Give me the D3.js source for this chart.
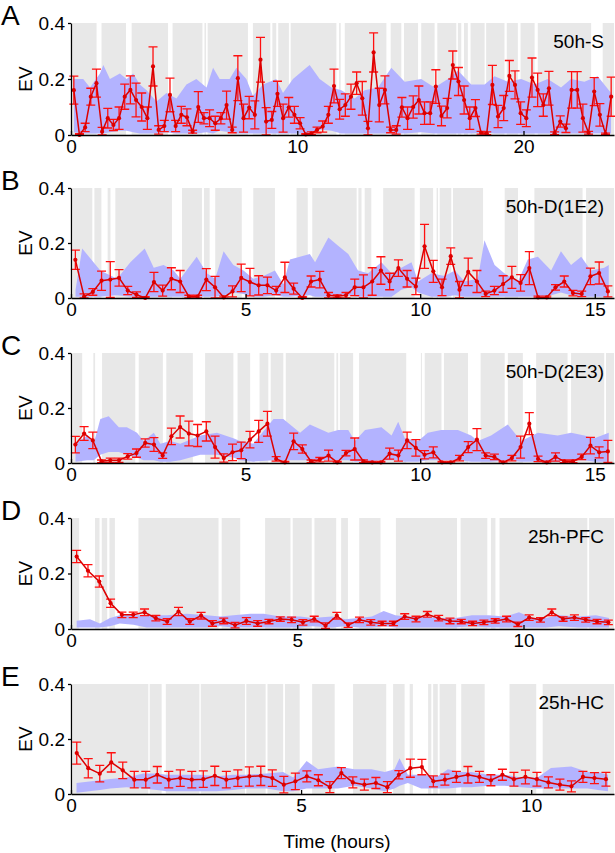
<!DOCTYPE html>
<html><head><meta charset="utf-8">
<script src="https://cdn.jsdelivr.net/npm/d3@7"></script>
<style>body{margin:0;background:#fff}svg{display:block}</style>
</head><body><svg id="c" width="615" height="853"></svg>
<script>
// ---------------- DATA ----------------
const panelLetters = ["A","B","C","D","E"];
const panelTitles = ["50h-S","50h-D(1E2)","50h-D(2E3)","25h-PFC","25h-HC"];
const xMax = [24, 15.55, 15.55, 12, 11.8];
const xTicks = [[0,10,20],[0,5,10,15],[0,5,10,15],[0,5,10],[0,5,10]];
const yTicks = [0, 0.2, 0.4];
const binStart = 0.125, binWidth = 0.25; // time bins (hours)

// Panel A (50h-S)
const evA = [0.16,0.0,0.027,0.137,0.185,0.012,0.06,0.036,0.06,0.137,0.161,0.125,0.10,0.06,0.245,0.018,0.032,0.143,0.032,0.072,0.063,0.012,0.10,0.06,0.06,0.042,0.06,0.107,0.018,0.203,0.06,0.098,0.072,0.269,0.048,0.054,0.147,0.06,0.099,0.072,0.042,0.002,
 0.006,0.018,0.03,0.072,0.175,0.092,0.107,0.137,0.185,0.131,0.024,0.295,0.107,0.161,0.018,0.018,0.099,0.06,0.10,0.125,0.078,0.078,0.173,0.068,0.096,0.25,0.191,0.125,0.06,0.096,0.008,0.006,0.179,0.066,0.096,0.211,0.179,0.078,0.06,0.205,0.161,0.107,0.167,0.006,0.048,0.024,0.161,0.161,0.06,0.008,0.155,0.072,0.004,0.137];
const errA = [0.05,0.005,0.015,0.03,0.05,0.015,0.035,0.02,0.04,0.045,0.05,0.06,0.05,0.04,0.07,0.015,0.02,0.06,0.02,0.03,0.03,0.005,0.055,0.02,0.03,0.025,0.02,0.05,0.01,0.08,0.05,0.04,0.05,0.08,0.05,0.03,0.045,0.05,0.035,0.03,0.02,0.003,
 0.005,0.01,0.02,0.03,0.06,0.035,0.04,0.045,0.04,0.06,0.025,0.07,0.06,0.05,0.01,0.015,0.035,0.04,0.04,0.05,0.04,0.04,0.06,0.035,0.035,0.05,0.05,0.05,0.04,0.03,0.005,0.005,0.07,0.04,0.045,0.055,0.05,0.04,0.03,0.07,0.06,0.04,0.06,0.005,0.02,0.015,0.065,0.065,0.05,0.005,0.05,0.04,0.003,0.07];
const bandTA = [0.13,0.54,0.84,1.28,1.43,1.72,2.16,2.46,2.75,3.04,3.34,3.78,4.22,4.66,5.1,5.54,5.99,6.28,6.57,7.01,7.31,7.75,8.04,8.49,9.07,9.37,9.81,10.4,10.55,10.99,11.51,11.95,12.54,12.98,13.57,14.16,14.75,15.48,16.07,16.66,17.1,17.69,18.28,18.72,19.31,19.9,20.49,21.07,21.66,22.1,22.69,23.28,23.87];
const bandHiA = [0.2,0.2,0.17,0.22,0.25,0.2,0.22,0.2,0.22,0.18,0.16,0.12,0.15,0.13,0.18,0.2,0.17,0.24,0.2,0.2,0.24,0.2,0.14,0.18,0.2,0.15,0.2,0.24,0.25,0.2,0.17,0.16,0.13,0.16,0.17,0.24,0.19,0.2,0.17,0.2,0.23,0.18,0.18,0.21,0.19,0.2,0.18,0.2,0.17,0.2,0.19,0.21,0.15];
const bandLoA = [0.01,0.005,0.005,0.005,0.005,0.01,0.015,0.015,0.01,0.005,0.005,0.005,0.01,0.005,0.005,0.005,0.01,0.005,0.015,0.01,0.005,0.005,0.005,0.005,0.005,0.005,0.005,0.005,0.01,0.02,0.015,0.005,0.005,0.005,0.005,0.005,0.005,0.01,0.005,0.005,0.005,0.005,0.01,0.005,0.005,0.005,0.005,0.005,0.005,0.005,0.005,0.005,0.005];
const grayA = [[0.07,1.13],[1.35,2.43],[2.68,4.29],[4.49,5.81],[5.90,5.97],[6.04,7.82],[8.04,8.81],[8.90,9.07],[9.16,9.63],[9.71,11.73],[11.85,11.92],[12.10,13.94],[14.13,14.60],[14.72,15.34],[15.48,16.07],[16.19,17.03],[17.10,17.25],[17.37,17.54],[17.66,18.28],[18.35,19.16],[19.26,19.75],[19.87,20.49],[20.63,22.99],[23.50,24.02]];

// Panel B (50h-D(1E2))
const evB = [0.139,0.005,0.022,0.063,0.067,0.073,0.027,0.012,0.0,0.058,0.027,0.07,0.06,0.005,0.005,0.067,0.039,0.002,0.024,0.073,0.058,0.046,0.046,0.027,0.075,0.034,0.0,
 0.06,0.067,0.01,0.006,0.01,0.039,0.039,0.06,0.1,0.06,0.109,0.07,0.042,0.188,0.097,0.039,0.152,0.03,0.095,0.06,0.015,0.027,0.051,0.075,0.055,0.109,0.002,0.002,0.039,0.06,0.018,0.015,0.079,0.091,0.024];
const errB = [0.035,0.01,0.012,0.035,0.065,0.03,0.015,0.01,0.005,0.035,0.02,0.04,0.04,0.005,0.005,0.04,0.04,0.005,0.02,0.05,0.05,0.035,0.03,0.015,0.055,0.02,0.005,
 0.02,0.03,0.01,0.005,0.01,0.03,0.045,0.05,0.05,0.03,0.03,0.03,0.03,0.08,0.04,0.03,0.03,0.03,0.05,0.04,0.01,0.015,0.03,0.04,0.03,0.06,0.005,0.005,0.01,0.02,0.01,0.01,0.03,0.04,0.02];
const bandTB = [0.13,0.32,0.84,1.32,1.7,2.11,2.37,2.65,2.94,3.13,3.6,3.89,4.13,4.37,4.65,4.94,5.22,5.51,5.84,6.08,6.27,6.84,6.99,7.37,7.65,7.94,8.22,8.51,8.89,9.18,9.46,9.75,9.94,10.32,10.7,10.99,11.27,11.65,11.84,12.13,12.41,12.8,13.08,13.37,13.75,14.03,14.32,14.61,14.89,15.27,15.4];
const bandHiB = [0.03,0.18,0.10,0.07,0.13,0.18,0.11,0.12,0.10,0.07,0.15,0.09,0.07,0.17,0.12,0.10,0.07,0.08,0.10,0.05,0.14,0.16,0.13,0.22,0.19,0.16,0.10,0.09,0.13,0.09,0.11,0.13,0.06,0.09,0.08,0.10,0.06,0.07,0.21,0.12,0.09,0.06,0.14,0.15,0.10,0.17,0.12,0.15,0.10,0.11,0.12];
const bandLoB = [0.005,0.005,0.005,0.01,0.005,0.005,0.005,0.005,0.005,0.005,0.005,0.005,0.005,0.01,0.02,0.015,0.005,0.005,0.01,0.005,0.005,0.01,0.005,0.005,0.01,0.01,0.005,0.005,0.005,0.005,0.03,0.04,0.02,0.005,0.005,0.01,0.005,0.005,0.005,0.005,0.005,0.005,0.005,0.005,0.01,0.02,0.01,0.005,0.005,0.005,0.005];
const grayB = [[0.06,0.61],[0.67,0.87],[1.05,1.13],[1.27,2.89],[3.18,3.75],[3.81,3.97],[4.13,4.89],[5.22,5.84],[6.46,6.78],[6.91,8.18],[8.23,8.32],[8.41,8.60],[8.94,9.84],[9.99,10.37],[10.47,10.51],[10.56,10.89],[10.94,11.80],[12.42,12.80],[13.27,14.65],[14.75,15.56]];

// Panel C (50h-D(2E3))
const evC = [0.067,0.107,0.082,0.006,0.01,0.01,0.024,0.036,0.073,0.067,0.027,0.097,0.131,0.107,0.1,0.115,0.058,0.018,0.039,0.046,0.085,0.115,0.143,0.015,0.002,0.079,0.051,
 0.006,0.012,0.027,0.002,0.036,0.051,0.006,0.002,0.002,0.034,0.027,0.082,0.055,0.03,0.039,0.002,0.002,0.018,0.058,0.085,0.027,0.022,0.002,0.018,0.058,0.143,0.015,0.002,0.022,0.006,0.006,0.022,0.063,0.039,0.042];
const errC = [0.03,0.025,0.03,0.005,0.008,0.008,0.01,0.015,0.015,0.025,0.01,0.03,0.04,0.045,0.04,0.035,0.04,0.015,0.03,0.03,0.03,0.04,0.045,0.008,0.004,0.03,0.015,
 0.005,0.008,0.02,0.004,0.01,0.04,0.005,0.004,0.004,0.02,0.02,0.03,0.03,0.015,0.02,0.004,0.004,0.01,0.02,0.04,0.01,0.01,0.004,0.01,0.04,0.04,0.01,0.004,0.015,0.005,0.005,0.01,0.03,0.02,0.04];
const bandTC = [0.13,0.46,0.65,0.84,1.08,1.37,1.6,1.89,2.08,2.37,2.56,2.84,3.13,3.7,4.18,4.65,4.84,5.22,5.8,6.08,6.56,6.84,7.37,7.65,7.94,8.13,8.42,8.89,9.18,9.37,9.56,9.94,10.22,10.6,11.08,11.46,11.65,12.03,12.51,12.89,13.37,13.94,14.32,14.7,14.99,15.4];
const bandHiC = [0.07,0.1,0.07,0.16,0.17,0.13,0.13,0.11,0.08,0.11,0.07,0.08,0.07,0.1,0.11,0.09,0.08,0.07,0.16,0.16,0.11,0.14,0.11,0.12,0.12,0.08,0.12,0.13,0.1,0.15,0.09,0.08,0.11,0.12,0.12,0.1,0.08,0.1,0.14,0.08,0.11,0.1,0.11,0.1,0.09,0.11];
const bandLoC = [0.005,0.01,0.01,0.03,0.04,0.04,0.03,0.02,0.01,0.01,0.005,0.005,0.01,0.03,0.03,0.02,0.01,0.005,0.01,0.01,0.01,0.01,0.01,0.01,0.01,0.005,0.005,0.01,0.01,0.01,0.005,0.005,0.01,0.01,0.01,0.005,0.005,0.005,0.01,0.005,0.005,0.005,0.01,0.01,0.005,0.005];
const grayC = [[0.06,0.32],[0.64,0.69],[0.89,1.84],[1.94,2.63],[2.73,3.49],[3.84,4.65],[4.77,5.13],[5.40,5.65],[5.72,6.08],[6.15,7.54],[7.60,7.65],[7.70,8.08],[8.25,9.60],[10.02,10.05],[10.13,10.61],[10.68,11.37],[11.73,12.42],[12.51,12.94],[13.32,14.22],[14.32,15.27],[15.32,15.56]];

// Panel D (25h-PFC)
const evD = [0.261,0.21,0.171,0.093,0.051,0.051,0.06,0.039,0.027,0.063,0.027,0.048,0.02,0.029,0.014,0.029,0.02,0.027,0.036,0.033,0.024,0.036,0.012,0.048,0.014,0.033,0.024,0.02,0.02,0.045,0.036,0.053,0.039,0.029,0.027,0.02,0.024,0.029,0.036,0.017,0.041,0.033,0.06,0.036,0.041,0.033,0.027,0.024];
const errD = [0.022,0.022,0.02,0.015,0.01,0.01,0.012,0.01,0.01,0.015,0.01,0.012,0.01,0.01,0.01,0.012,0.01,0.008,0.008,0.01,0.01,0.01,0.01,0.012,0.008,0.01,0.01,0.008,0.008,0.01,0.01,0.01,0.01,0.01,0.008,0.008,0.008,0.008,0.01,0.008,0.01,0.008,0.012,0.008,0.01,0.008,0.008,0.008];
const bandTD = [0.125,0.42,0.64,0.86,1.08,1.38,1.67,2.12,2.56,3.0,3.3,3.59,3.96,4.26,4.62,5.07,5.32,5.77,6.06,6.36,6.65,6.91,7.17,7.39,7.76,8.13,8.5,8.86,9.23,9.6,9.9,10.19,10.49,10.78,11.22,11.6,11.89];
const bandHiD = [0.03,0.035,0.02,0.04,0.05,0.05,0.05,0.05,0.055,0.05,0.045,0.05,0.055,0.055,0.045,0.045,0.04,0.045,0.035,0.04,0.045,0.065,0.05,0.045,0.045,0.04,0.04,0.05,0.05,0.045,0.06,0.04,0.04,0.05,0.045,0.05,0.04];
const bandLoD = [0.005,0.005,0.005,0.01,0.02,0.015,0.005,0.005,0.005,0.005,0.01,0.005,0.005,0.005,0.005,0.005,0.01,0.005,0.01,0.005,0.005,0.01,0.005,0.005,0.005,0.005,0.005,0.01,0.005,0.005,0.005,0.005,0.005,0.01,0.005,0.005,0.005];
const grayD = [[0.04,0.18],[0.53,0.63],[0.68,0.80],[0.85,0.97],[1.49,3.26],[3.33,3.74],[4.29,4.85],[4.90,5.32],[5.38,5.86],[5.97,6.12],[6.37,6.84],[7.18,8.53],[8.61,9.20],[9.28,9.38],[9.47,11.41],[11.45,12.04]];

// Panel E (25h-HC)
const evE = [0.149,0.094,0.074,0.115,0.086,0.052,0.052,0.07,0.052,0.058,0.052,0.054,0.066,0.052,0.058,0.064,0.066,0.058,0.034,0.046,0.064,0.05,0.025,0.076,0.042,0.034,0.04,0.025,0.07,0.094,0.098,0.046,0.052,0.062,0.07,0.062,0.05,0.07,0.054,0.062,0.054,0.042,0.034,0.028,0.062,0.058,0.054];
const errE = [0.04,0.035,0.03,0.035,0.03,0.03,0.03,0.03,0.03,0.03,0.03,0.03,0.035,0.03,0.03,0.035,0.035,0.03,0.03,0.03,0.02,0.02,0.02,0.02,0.02,0.02,0.02,0.02,0.015,0.033,0.028,0.02,0.02,0.02,0.03,0.02,0.02,0.02,0.025,0.025,0.025,0.02,0.02,0.02,0.02,0.02,0.025];
const bandTE = [0.12,0.63,0.85,1.21,1.57,1.86,2.08,2.44,2.8,3.16,3.52,3.81,4.25,4.61,4.83,5.12,5.37,5.8,6.16,6.53,6.82,7.03,7.14,7.32,7.61,7.97,8.19,8.48,8.7,9.06,9.42,9.78,10.14,10.43,10.87,11.23,11.45,11.67];
const bandHiE = [0.04,0.05,0.055,0.06,0.075,0.075,0.07,0.07,0.07,0.065,0.07,0.07,0.075,0.08,0.06,0.12,0.09,0.1,0.09,0.09,0.08,0.09,0.13,0.07,0.07,0.065,0.09,0.08,0.08,0.07,0.07,0.06,0.06,0.095,0.1,0.08,0.08,0.07];
const bandLoE = [0.005,0.015,0.02,0.025,0.02,0.015,0.01,0.01,0.01,0.01,0.015,0.02,0.02,0.01,0.01,0.02,0.02,0.02,0.03,0.02,0.01,0.02,0.03,0.04,0.02,0.02,0.02,0.025,0.025,0.03,0.03,0.025,0.02,0.02,0.02,0.02,0.015,0.01];
const grayE = [[0.04,1.68],[1.71,1.97],[2.06,2.79],[2.82,3.78],[3.81,4.23],[4.27,4.61],[4.65,4.97],[5.24,5.73],[6.13,6.85],[7.0,7.25],[7.36,7.43],[7.76,7.83],[7.87,7.97],[8.01,8.37],[8.48,8.99],[9.53,10.11],[10.25,11.81]];

// ---------------- BUILD ----------------
const panels = [
  {ev:evA, err:errA, bT:bandTA, bHi:bandHiA, bLo:bandLoA, gray:grayA},
  {ev:evB, err:errB, bT:bandTB, bHi:bandHiB, bLo:bandLoB, gray:grayB},
  {ev:evC, err:errC, bT:bandTC, bHi:bandHiC, bLo:bandLoC, gray:grayC},
  {ev:evD, err:errD, bT:bandTD, bHi:bandHiD, bLo:bandLoD, gray:grayD},
  {ev:evE, err:errE, bT:bandTE, bHi:bandHiE, bLo:bandLoE, gray:grayE}
];

const FONT = "'Liberation Sans', Arial, Helvetica, sans-serif";
const svg = d3.select("#c");
const X0 = 71, X1 = 614;
const tops = [23, 188, 353, 518, 684];
const bots = [135, 298, 463, 629, 794];
const capW = 4.5;

panels.forEach((p, i) => {
  const x = d3.scaleLinear().domain([0, xMax[i]]).range([X0, X1]);
  const y = d3.scaleLinear().domain([0, 0.4]).range([bots[i], tops[i]]);
  const g = svg.append("g");

  g.selectAll("rect.gr").data(p.gray).join("rect")
    .attr("class", "gr")
    .attr("x", d => x(d[0])).attr("width", d => Math.max(0, x(Math.min(d[1], xMax[i])) - x(d[0])))
    .attr("y", tops[i]).attr("height", bots[i] - tops[i])
    .attr("fill", "#e8e8e8");

  const band = p.bT.map((t, j) => ({t, lo: p.bLo[j], hi: p.bHi[j]}));
  g.append("path").datum(band)
    .attr("d", d3.area().x(d => x(d.t)).y0(d => y(d.lo)).y1(d => y(d.hi)))
    .attr("fill", "#b3b3ff");

  const pts = p.ev.map((v, j) => ({t: binStart + binWidth * j, v, e: p.err[j]}));

  g.selectAll("path.eb").data(pts).join("path")
    .attr("class", "eb")
    .attr("d", d => {
      const xx = x(d.t), yt = y(Math.min(0.4, d.v + d.e)), yb = y(Math.max(0, d.v - d.e));
      return `M${xx - capW},${yt}H${xx + capW}M${xx},${yt}V${yb}M${xx - capW},${yb}H${xx + capW}`;
    })
    .attr("fill", "none").attr("stroke", "#ff1010").attr("stroke-width", 1.3);

  g.append("path").datum(pts)
    .attr("d", d3.line().x(d => x(d.t)).y(d => y(d.v)))
    .attr("fill", "none").attr("stroke", "#dd0000").attr("stroke-width", 1.5);

  g.selectAll("circle.pt").data(pts).join("circle")
    .attr("class", "pt")
    .attr("cx", d => x(d.t)).attr("cy", d => y(d.v)).attr("r", 2.1)
    .attr("fill", "#dd0000");

  // axes
  const ya = d3.axisLeft(y).tickValues(yTicks).tickSizeInner(3).tickSizeOuter(0).tickPadding(3)
    .tickFormat(d => d === 0 ? "0" : d3.format(".1f")(d));
  const yg = g.append("g").attr("transform", `translate(${X0},0)`).call(ya);
  yg.attr("font-size", 19).attr("font-family", FONT);
  yg.selectAll("path,line").attr("stroke", "#000").attr("stroke-width", 1.3);
  yg.selectAll("text").attr("fill", "#000");

  const xa = d3.axisBottom(x).tickValues(xTicks[i]).tickSizeInner(-4).tickSizeOuter(0).tickPadding(5)
    .tickFormat(d3.format("d"));
  const xg = g.append("g").attr("transform", `translate(0,${bots[i]})`).call(xa);
  xg.attr("font-size", 19).attr("font-family", FONT);
  xg.selectAll("path,line").attr("stroke", "#000").attr("stroke-width", 1.3);
  xg.selectAll("text").attr("fill", "#000");

  // labels
  g.append("text").attr("x", 1).attr("y", tops[i] + 2)
    .attr("font-family", FONT).attr("font-size", 28).attr("fill", "#000")
    .text(panelLetters[i]);
  g.append("text").attr("x", 604).attr("y", tops[i] + 25).attr("text-anchor", "end")
    .attr("font-family", FONT).attr("font-size", 19).attr("fill", "#000")
    .text(panelTitles[i]);
  g.append("text")
    .attr("transform", `translate(32,${(tops[i] + bots[i]) / 2}) rotate(-90)`)
    .attr("text-anchor", "middle")
    .attr("font-family", FONT).attr("font-size", 19).attr("fill", "#000")
    .text("EV");
});

svg.append("text").attr("x", 337).attr("y", 848).attr("text-anchor", "middle")
  .attr("font-family", FONT).attr("font-size", 19).attr("fill", "#000")
  .text("Time (hours)");
</script>
</body></html>
